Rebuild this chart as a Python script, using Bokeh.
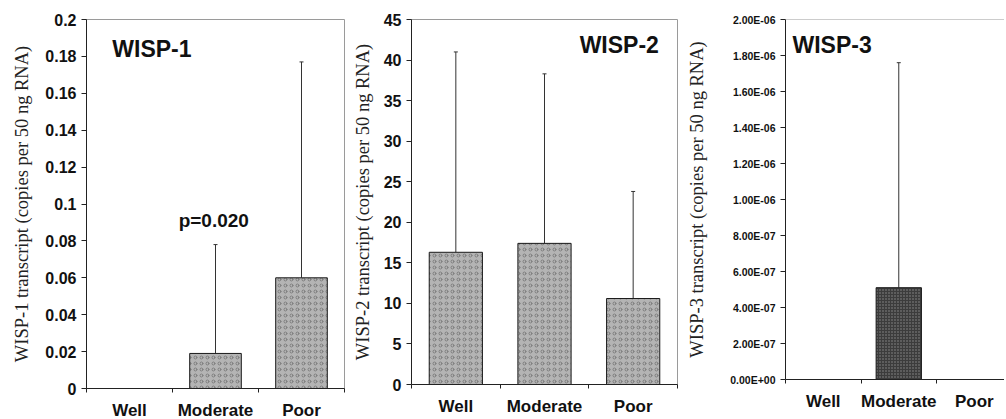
from bokeh.plotting import figure
from bokeh.layouts import row
from bokeh.models import (Range1d, FixedTicker, CustomJSTickFormatter, Whisker,
                          ColumnDataSource, Label, TeeHead, Span)
from bokeh.embed import file_html
from bokeh.resources import INLINE

categories = ["Well", "Moderate", "Poor"]

wisp1_mean = [0.0, 0.019, 0.060]
wisp1_upper = [0.0, 0.078, 0.177]
wisp2_mean = [16.3, 17.4, 10.6]
wisp2_upper = [41.0, 38.3, 23.8]
wisp3_mean = [0.0, 5.1e-7, 0.0]
wisp3_upper = [0.0, 1.76e-6, 0.0]

wisp1_ticks = [0, 0.02, 0.04, 0.06, 0.08, 0.1, 0.12, 0.14, 0.16, 0.18, 0.2]
wisp1_tick_labels = ["0", "0.02", "0.04", "0.06", "0.08", "0.1", "0.12", "0.14", "0.16", "0.18", "0.2"]
wisp2_ticks = [0, 5, 10, 15, 20, 25, 30, 35, 40, 45]
wisp2_tick_labels = ["0", "5", "10", "15", "20", "25", "30", "35", "40", "45"]
wisp3_ticks = [0, 2e-7, 4e-7, 6e-7, 8e-7, 1e-6, 1.2e-6, 1.4e-6, 1.6e-6, 1.8e-6, 2e-6]
wisp3_tick_labels = ["0.00E+00", "2.00E-07", "4.00E-07", "6.00E-07", "8.00E-07", "1.00E-06",
                     "1.20E-06", "1.40E-06", "1.60E-06", "1.80E-06", "2.00E-06"]

ytitles = ["WISP-1 transcript (copies per 50 ng RNA)",
           "WISP-2 transcript (copies per 50 ng RNA)",
           "WISP-3 transcript (copies per 50 ng RNA)"]
panel_titles = ["WISP-1", "WISP-2", "WISP-3"]
pvalue_text = "p=0.020"

SANS = "Liberation Sans"
SERIF = "Liberation Serif"


def make_panel(mean, upper, ticks, tick_labels, ytitle, ymax, xend,
               frame_w, frame_h, b_left, b_top, b_right, b_bottom,
               ytick_size, fill, hatch_color, hatch_pattern, hatch_scale, outline,
               ylabel_standoff):
    p = figure(width=frame_w + b_left + b_right, height=frame_h + b_top + b_bottom,
               output_backend="svg", toolbar_location=None,
               x_range=Range1d(0, xend), y_range=Range1d(0, ymax))
    p.frame_width = frame_w
    p.frame_height = frame_h
    p.min_border_left = b_left
    p.min_border_right = b_right
    p.min_border_top = b_top
    p.min_border_bottom = b_bottom
    p.xgrid.visible = False
    p.ygrid.visible = False
    p.background_fill_color = "white"
    p.border_fill_color = "white"
    p.outline_line_color = "#9a9a9a" if outline else None

    n = len(categories)
    centers = [i + 0.5 for i in range(n)]
    bounds = list(range(n + 1))
    src = ColumnDataSource(dict(x=centers, top=mean, upper=upper))
    p.vbar(x="x", top="top", bottom=0, width=0.6, source=src,
           fill_color=fill, line_color="#1a1a1a", line_width=1,
           hatch_pattern=hatch_pattern, hatch_color=hatch_color,
           hatch_scale=hatch_scale, hatch_weight=1, hatch_alpha=0.75)

    ex = [c for c, m, u in zip(centers, mean, upper) if u > m]
    eb = [m for m, u in zip(mean, upper) if u > m]
    eu = [u for m, u in zip(mean, upper) if u > m]
    esrc = ColumnDataSource(dict(x=ex, base=eb, upper=eu))
    w = Whisker(base="x", lower="base", upper="upper", dimension="height", source=esrc,
                line_color="#333333", line_width=1,
                upper_head=TeeHead(size=4, line_color="#333333", line_width=1),
                lower_head=None)
    p.add_layout(w)

    xa = p.xaxis[0]
    xa.ticker = FixedTicker(ticks=centers, minor_ticks=bounds)
    xa.formatter = CustomJSTickFormatter(args=dict(labels=categories),
                                         code="return labels[index];")
    xa.major_tick_out = 0
    xa.major_tick_in = 0
    xa.minor_tick_out = 4
    xa.minor_tick_in = 0
    xa.minor_tick_line_color = "#222222"
    xa.axis_line_color = "#222222"
    xa.major_label_text_font = SANS
    xa.major_label_text_font_style = "bold"
    xa.major_label_text_font_size = "17px"
    xa.major_label_text_color = "#111111"
    xa.major_label_standoff = 8

    ya = p.yaxis[0]
    ya.ticker = FixedTicker(ticks=ticks, minor_ticks=[])
    ya.formatter = CustomJSTickFormatter(args=dict(labels=tick_labels),
                                         code="return labels[index];")
    ya.major_tick_out = 5
    ya.major_tick_in = 0
    ya.major_tick_line_color = "#222222"
    ya.axis_line_color = "#222222"
    ya.major_label_text_font = SANS
    ya.major_label_text_font_style = "bold"
    ya.major_label_text_font_size = ytick_size
    ya.major_label_text_color = "#111111"
    ya.major_label_standoff = 5
    ya.axis_label = ytitle
    ya.axis_label_text_font = SERIF
    ya.axis_label_text_font_style = "normal"
    ya.axis_label_text_font_size = "18.5px"
    ya.axis_label_text_color = "#222222"
    ya.axis_label_standoff = ylabel_standoff
    return p


p1 = make_panel(wisp1_mean, wisp1_upper, wisp1_ticks, wisp1_tick_labels, ytitles[0],
                0.2, 3, 258, 369, 86, 16, 3, 32, "16px",
                "#b4b4b4", "#6e6e6e", "o", 6, True, 10)
p1.add_layout(Label(x=0.3, y=0.184, text=panel_titles[0], text_font=SANS,
                    text_font_style="bold", text_font_size="23px",
                    text_baseline="middle", text_align="left", text_color="#111111"))
p1.add_layout(Label(x=1.48, y=0.091, text=pvalue_text, text_font=SANS,
                    text_font_style="bold", text_font_size="19px",
                    text_baseline="middle", text_align="center", text_color="#111111"))

p2 = make_panel(wisp2_mean, wisp2_upper, wisp2_ticks, wisp2_tick_labels, ytitles[1],
                45, 3, 266, 365, 64, 19, 3, 33, "16px",
                "#b4b4b4", "#6e6e6e", "o", 6, True, 8)
p2.add_layout(Label(x=2.79, y=41.8, text=panel_titles[1], text_font=SANS,
                    text_font_style="bold", text_font_size="23px",
                    text_baseline="middle", text_align="right", text_color="#111111"))

p3 = make_panel(wisp3_mean, wisp3_upper, wisp3_ticks, wisp3_tick_labels, ytitles[2],
                2e-6, 2.9, 219, 360, 105, 19, 0, 38, "10.5px",
                "#3c3c3c", "#a8a8a8", ".", 3, False, 20)
p3.add_layout(Span(location=2e-6, dimension="width", line_color="#9a9a9a", line_width=1))
p3.add_layout(Label(x=0.093, y=1.856e-6, text=panel_titles[2], text_font=SANS,
                    text_font_style="bold", text_font_size="23px",
                    text_baseline="middle", text_align="left", text_color="#111111"))

layout = row(p1, p2, p3)
open("out.html", "w").write(file_html(layout, INLINE))
